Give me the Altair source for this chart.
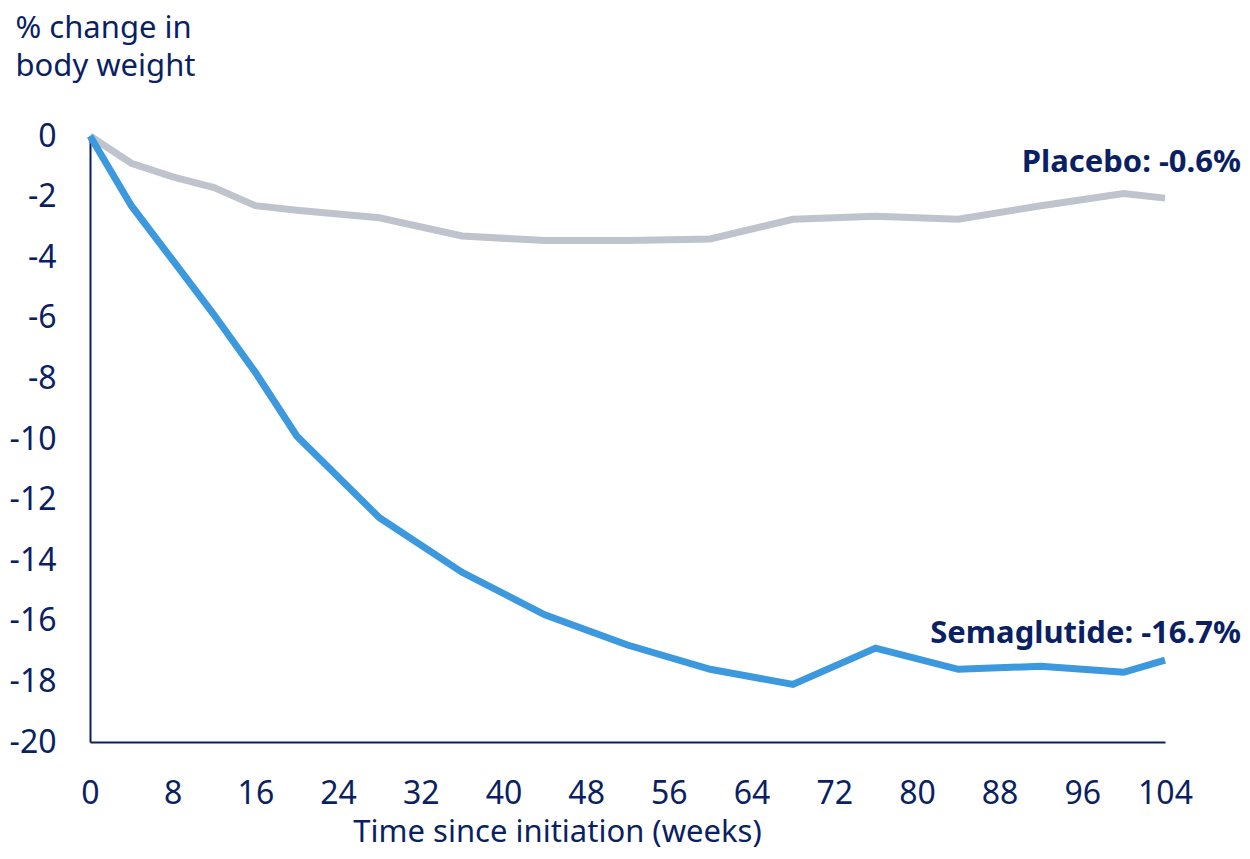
import altair as alt
import pandas as pd

weeks_sema = [0, 4, 8, 12, 16, 20, 28, 36, 44, 52, 60, 68, 76, 84, 92, 100, 104]
sema = [0, -2.3, -4.1, -5.9, -7.8, -9.9, -12.6, -14.4, -15.8, -16.8, -17.6, -18.1, -16.9, -17.6, -17.5, -17.7, -17.3]

weeks_plac = [0, 4, 8, 12, 16, 20, 28, 36, 44, 52, 60, 68, 76, 84, 92, 100, 104]
plac = [0, -0.9, -1.35, -1.7, -2.3, -2.45, -2.7, -3.3, -3.45, -3.45, -3.4, -2.75, -2.65, -2.75, -2.3, -1.9, -2.05]

label_text = ["Placebo: -0.6%", "Semaglutide: -16.7%"]
label_week = [104, 104]
label_value = [-0.9, -16.45]

x_ticks = list(range(0, 105, 8))
y_ticks = list(range(0, -21, -2))

NAVY = "#0b1f63"
FONT = "Noto Sans"

df = pd.concat([
    pd.DataFrame({"week": weeks_plac, "value": plac, "group": "Placebo"}),
    pd.DataFrame({"week": weeks_sema, "value": sema, "group": "Semaglutide"}),
])
labels = pd.DataFrame({"text": label_text, "week": label_week, "value": label_value})

x_scale = alt.Scale(domain=[0, 104], nice=False, zero=False)
y_scale = alt.Scale(domain=[-20, 0], nice=False)

x_axis = alt.Axis(
    values=x_ticks, ticks=False, tickSize=0, grid=False, domainColor=NAVY, domainWidth=2,
    labelFont=FONT, labelFontSize=32, labelColor=NAVY, labelPadding=51, labelBaseline="middle",
    labelFlush=False, labelExpr="'' + datum.value",
    title="Time since initiation (weeks)", titleFont=FONT, titleFontSize=31, titleFontWeight="normal",
    titleColor=NAVY, titleX=467, titleY=90, titleAlign="center", titleBaseline="middle",
    titleAnchor="start",
)
y_axis = alt.Axis(
    values=y_ticks, ticks=False, tickSize=0, grid=False, domainColor=NAVY, domainWidth=2,
    labelFont=FONT, labelFontSize=32, labelColor=NAVY, labelPadding=34, labelBaseline="middle",
    labelFlush=False, labelExpr="'' + datum.value",
    title=["% change in", "body weight"], titleFont=FONT, titleFontSize=31, titleFontWeight="normal",
    titleColor=NAVY, titleAngle=0, titleX=-75, titleY=-99, titleAlign="left",
    titleBaseline="alphabetic", titleLineHeight=38, titleAnchor="start",
)

lines = alt.Chart(df).mark_line(strokeWidth=7, strokeJoin="miter").encode(
    x=alt.X("week:Q", scale=x_scale, axis=x_axis),
    y=alt.Y("value:Q", scale=y_scale, axis=y_axis),
    color=alt.Color("group:N", scale=alt.Scale(domain=["Placebo", "Semaglutide"],
                                               range=["#bfc3cb", "#3d99de"]), legend=None),
    detail="group:N",
)

text = alt.Chart(labels).mark_text(
    align="right", baseline="middle", dx=76, font=FONT, fontSize=31, fontWeight="bold", color=NAVY
).encode(
    x=alt.X("week:Q", scale=x_scale),
    y=alt.Y("value:Q", scale=y_scale),
    text="text:N",
)

chart = alt.layer(lines, text).properties(
    width=1075, height=606,
    autosize=alt.AutoSizeParams(type="none"),
    padding={"left": 82, "top": 128, "right": 77, "bottom": 109},
).configure_view(stroke=None)

chart.save("out.html", embed_options={"renderer": "svg", "actions": False})
